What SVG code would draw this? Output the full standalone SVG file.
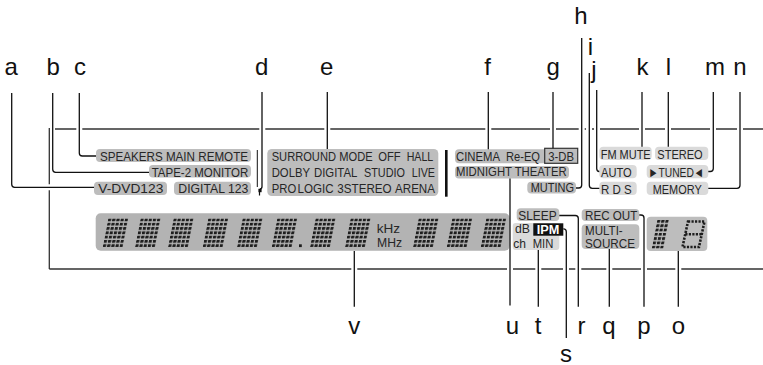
<svg xmlns="http://www.w3.org/2000/svg" width="763" height="365" viewBox="0 0 763 365">
<style>
.L{font-family:"Liberation Sans",Arial,sans-serif;font-size:24px;fill:#111;text-anchor:middle}
.t{font-family:"Liberation Sans",Arial,sans-serif;font-size:13.5px;fill:#262626}
.ipm{font-family:"Liberation Sans",Arial,sans-serif;font-size:13.5px;font-weight:bold;fill:#fff}
.pd{fill:#bdbdbd}
.pl{fill:#dadada}
.strip{fill:#b3b3b3}
.ld{fill:none;stroke:#111;stroke-width:1.3}
.fr{fill:none;stroke:#333;stroke-width:1.3}
</style>
<defs>
<pattern id="dm" width="4.2" height="4.3" patternUnits="userSpaceOnUse"><rect width="3.1" height="2.8" fill="#1e1e1e"/></pattern>
<rect id="g5" width="20" height="28.6" fill="url(#dm)"/>
<rect id="g3" width="11.6" height="28.6" fill="url(#dm)"/>
</defs>
<rect width="763" height="365" fill="#fff"/>

<g id="frame">
<path class="fr" d="M55 129H76.3M82.3 129H259.3M265.3 129H324.3M330.3 129H485.3M491.3 129H550M556 129H578.7M584.7 129H586M592 129H594M600 129H639M645 129H665M671 129H710M716 129H737M743 129H763M49.3 128V184.3M49.3 190.3V269M49.3 269H351.3M357.3 269H507M513 269H535.3M541.3 269H563M569 269H575.3M581.3 269H606.3M612.3 269H641M647 269H675.3M681.3 269H763"/>
</g>

<g id="speakers"><rect class="pd" x="96" y="149" width="155" height="13" rx="4"/><text class="t" x="100" y="160.7" textLength="148" lengthAdjust="spacingAndGlyphs">SPEAKERS MAIN REMOTE</text></g>
<g id="tape2"><rect class="pd" x="149" y="165" width="102" height="12.5" rx="4"/><text class="t" x="151.7" y="176.5" textLength="96.6" lengthAdjust="spacingAndGlyphs">TAPE-2 MONITOR</text></g>
<g id="vdvd"><rect class="pd" x="94" y="181.7" width="73" height="13.3" rx="4"/><text class="t" x="98.3" y="193.2" textLength="65" lengthAdjust="spacingAndGlyphs">V-DVD123</text></g>
<g id="digital"><rect class="pd" x="174" y="181.7" width="77" height="13.3" rx="4"/><text class="t" x="178.3" y="193.2" textLength="70" lengthAdjust="spacingAndGlyphs">DIGITAL 123</text></g>
<g id="dot-indicator"><path d="M257.3 150V187" stroke="#111" stroke-width="1" fill="none"/><rect x="258.4" y="188.8" width="3.2" height="3.4" fill="#111"/><path d="M259.5 192V195.5" stroke="#111" stroke-width="1.2"/></g>

<g id="surround">
<rect class="pd" x="267.3" y="149" width="171" height="47" rx="4.5"/>
<text class="t" x="271.7" y="161.2" textLength="64.3" lengthAdjust="spacingAndGlyphs">SURROUND</text>
<text class="t" x="339.3" y="161.2" textLength="33.4" lengthAdjust="spacingAndGlyphs">MODE</text>
<text class="t" x="378.3" y="161.2" textLength="22.4" lengthAdjust="spacingAndGlyphs">OFF</text>
<text class="t" x="406.7" y="161.2" textLength="26.6" lengthAdjust="spacingAndGlyphs">HALL</text>
<text class="t" x="271.7" y="177" textLength="38.3" lengthAdjust="spacingAndGlyphs">DOLBY</text>
<text class="t" x="314" y="177" textLength="43.3" lengthAdjust="spacingAndGlyphs">DIGITAL</text>
<text class="t" x="364" y="177" textLength="41" lengthAdjust="spacingAndGlyphs">STUDIO</text>
<text class="t" x="411.7" y="177" textLength="23.3" lengthAdjust="spacingAndGlyphs">LIVE</text>
<text class="t" x="271.7" y="193" textLength="24.5" lengthAdjust="spacingAndGlyphs">PRO</text>
<text class="t" x="297.5" y="193" textLength="36" lengthAdjust="spacingAndGlyphs">LOGIC</text>
<text class="t" x="337.3" y="193" textLength="54.4" lengthAdjust="spacingAndGlyphs">3STEREO</text>
<text class="t" x="395" y="193" textLength="40" lengthAdjust="spacingAndGlyphs">ARENA</text>
</g>
<g id="divider"><rect x="445" y="150" width="2.6" height="46.7" fill="#111"/></g>

<g id="cinema"><rect class="pd" x="455" y="149.3" width="95" height="14" rx="4"/><text class="t" x="456" y="161" textLength="44" lengthAdjust="spacingAndGlyphs">CINEMA</text><text class="t" x="506" y="161" textLength="34" lengthAdjust="spacingAndGlyphs">Re-EQ</text></g>
<g id="threedb"><rect x="544.7" y="148.3" width="33" height="15" fill="#bdbdbd" stroke="#333" stroke-width="1.2"/><text class="t" x="548.3" y="161" textLength="25.7" lengthAdjust="spacingAndGlyphs">3-DB</text></g>
<g id="midnight"><rect class="pd" x="455" y="166" width="114" height="12.5" rx="4"/><text class="t" x="456" y="176.1" textLength="110.7" lengthAdjust="spacingAndGlyphs">MIDNIGHT THEATER</text></g>
<g id="muting"><rect class="pd" x="527.3" y="181.7" width="48.7" height="11.8" rx="4"/><text class="t" x="530.7" y="192.1" textLength="43.3" lengthAdjust="spacingAndGlyphs">MUTING</text></g>

<g id="fmmute"><rect class="pl" x="599.3" y="146.7" width="52.4" height="13.3" rx="4"/><text class="t" x="600.7" y="158.5" textLength="50" lengthAdjust="spacingAndGlyphs">FM MUTE</text></g>
<g id="stereo"><rect class="pl" x="655" y="146.7" width="53.3" height="13.3" rx="4"/><text class="t" x="657.3" y="158.5" textLength="45.4" lengthAdjust="spacingAndGlyphs">STEREO</text></g>
<g id="auto"><rect class="pl" x="599.3" y="165" width="37.4" height="13.3" rx="4"/><text class="t" x="601" y="176.9" textLength="30.7" lengthAdjust="spacingAndGlyphs">AUTO</text></g>
<g id="tuned"><rect class="pl" x="646.7" y="165" width="61.6" height="13.3" rx="4"/><text class="t" x="648.3" y="176.9" textLength="55.7" lengthAdjust="spacingAndGlyphs">►TUNED◄</text></g>
<g id="rds"><rect class="pl" x="599.3" y="181.7" width="37.4" height="13.3" rx="4"/><text class="t" x="601" y="193.5" textLength="30.7" lengthAdjust="spacingAndGlyphs">R D S</text></g>
<g id="memory"><rect class="pl" x="646.7" y="181.7" width="61.6" height="13.3" rx="4"/><text class="t" x="652.7" y="193.5" textLength="49" lengthAdjust="spacingAndGlyphs">MEMORY</text></g>

<g id="main-display">
<rect class="strip" x="95.7" y="213.3" width="414" height="37.5" rx="5"/>
<use href="#g5" transform="translate(108.3,218.5) skewX(-11)"/>
<use href="#g5" transform="translate(140.6,218.5) skewX(-11)"/>
<use href="#g5" transform="translate(173.6,218.5) skewX(-11)"/>
<use href="#g5" transform="translate(208.3,218.5) skewX(-11)"/>
<use href="#g5" transform="translate(242.6,218.5) skewX(-11)"/>
<use href="#g5" transform="translate(277.3,218.5) skewX(-11)"/>
<rect x="299" y="244.3" width="2.8" height="2.8" fill="#1e1e1e"/>
<use href="#g5" transform="translate(315.6,218.5) skewX(-11)"/>
<use href="#g5" transform="translate(350.6,218.5) skewX(-11)"/>
<text class="t" x="376.7" y="232.7" textLength="23.3" lengthAdjust="spacingAndGlyphs">kHz</text>
<text class="t" x="377" y="246.7" textLength="25" lengthAdjust="spacingAndGlyphs">MHz</text>
<use href="#g5" transform="translate(418.6,218.5) skewX(-11)"/>
<use href="#g5" transform="translate(452.3,218.5) skewX(-11)"/>
<use href="#g5" transform="translate(486.3,218.5) skewX(-11)"/>
</g>

<g id="dbchmin"><rect class="pl" x="512.7" y="223" width="46.6" height="27" rx="3"/><text class="t" x="515" y="232.9" textLength="15" lengthAdjust="spacingAndGlyphs">dB</text><text class="t" x="513.3" y="247.9" textLength="12.7" lengthAdjust="spacingAndGlyphs">ch</text><text class="t" x="532.7" y="247.9" textLength="20.6" lengthAdjust="spacingAndGlyphs">MIN</text></g>
<g id="ipm"><rect x="533.3" y="223.3" width="30" height="12.4" fill="#111"/><text class="ipm" x="536.7" y="233.8" textLength="22.6" lengthAdjust="spacingAndGlyphs">IPM</text></g>
<g id="sleep"><rect class="pd" x="516.7" y="208.3" width="42.6" height="12.7" rx="4"/><text class="t" x="518.3" y="220.1" textLength="38.4" lengthAdjust="spacingAndGlyphs">SLEEP</text></g>
<g id="recout"><rect class="pd" x="581.7" y="209" width="57.6" height="12" rx="4"/><text class="t" x="585" y="220.1" textLength="52.3" lengthAdjust="spacingAndGlyphs">REC OUT</text></g>
<g id="multisource"><rect class="pd" x="581.7" y="224.3" width="57.6" height="24.7" rx="4"/><text class="t" x="585" y="234.5" textLength="37.7" lengthAdjust="spacingAndGlyphs">MULTI-</text><text class="t" x="585" y="247.9" textLength="50" lengthAdjust="spacingAndGlyphs">SOURCE</text></g>
<g id="sub-display"><rect class="pd" x="646.7" y="216.7" width="60.6" height="34.3" rx="4"/>
<use href="#g3" transform="translate(657.3,220) skewX(-11)"/>
<path d="M688 221.5H704.5L699 247H682.5ZM685.3 234.2H701.8" fill="none" stroke="#1e1e1e" stroke-width="2.6" stroke-dasharray="2.2 1.3"/>
</g>

<g id="connectors">
<path class="ld" d="M11.7 93V184.3Q11.7 187.3 14.7 187.3H94"/>
<path class="ld" d="M52.7 93V169.3Q52.7 172.3 55.7 172.3H149"/>
<path class="ld" d="M79.3 93V153Q79.3 156 82.3 156H96"/>
<path class="ld" d="M262 92V186.5Q262 189 259.8 189"/>
<path class="ld" d="M327.3 92V149"/>
<path class="ld" d="M488.3 92V149.3"/>
<path class="ld" d="M553 92V148.3"/>
<path class="ld" d="M581.7 38V185Q581.7 188 578.7 188H576"/>
<path class="ld" d="M589.3 73V185.3Q589.3 188.3 592.3 188.3H599.3"/>
<path class="ld" d="M596.7 90V168.5Q596.7 171.5 599.3 171.5"/>
<path class="ld" d="M642 92V146.7"/>
<path class="ld" d="M668.3 92V146.7"/>
<path class="ld" d="M713.3 92V168.5Q713.3 171.5 710.3 171.5H708.3"/>
<path class="ld" d="M740 92V185.3Q740 188.3 737 188.3H708.3"/>
<path class="ld" d="M354.3 251V306.7"/>
<path class="ld" d="M510 178.5V305.5"/>
<path class="ld" d="M538.3 250V306.7"/>
<path class="ld" d="M563.3 228.8H563.5Q566.3 228.8 566.3 231.8V338"/>
<path class="ld" d="M559.3 215.5H575.3Q578.3 215.5 578.3 218.5V306.7"/>
<path class="ld" d="M609.3 249V306.7"/>
<path class="ld" d="M639.3 215H641Q644 215 644 218V306.7"/>
<path class="ld" d="M678.3 251V306.7"/>
</g>

<g id="callouts">
<text class="L" x="11.3" y="75">a</text>
<text class="L" x="53.2" y="75">b</text>
<text class="L" x="80" y="75">c</text>
<text class="L" x="261.7" y="75">d</text>
<text class="L" x="326.7" y="75">e</text>
<text class="L" x="487.5" y="75">f</text>
<text class="L" x="553.3" y="75">g</text>
<text class="L" x="581" y="24">h</text>
<text class="L" x="590.5" y="55">i</text>
<text class="L" x="594" y="77.5">j</text>
<text class="L" x="642.5" y="75">k</text>
<text class="L" x="668.3" y="75">l</text>
<text class="L" x="715" y="75">m</text>
<text class="L" x="740" y="75">n</text>
<text class="L" x="354.3" y="334">v</text>
<text class="L" x="512.5" y="334">u</text>
<text class="L" x="538" y="334">t</text>
<text class="L" x="566" y="361.5">s</text>
<text class="L" x="581.5" y="334">r</text>
<text class="L" x="609" y="334">q</text>
<text class="L" x="644" y="334">p</text>
<text class="L" x="678.5" y="334">o</text>
</g>
</svg>
